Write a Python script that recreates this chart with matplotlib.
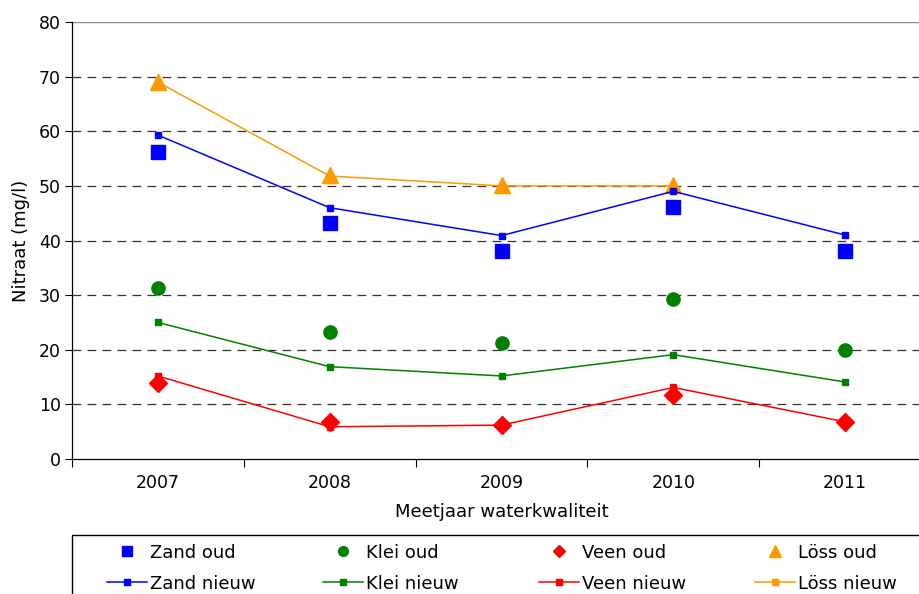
import numpy as np
import matplotlib.pyplot as plt
from matplotlib.lines import Line2D
from matplotlib.patches import Rectangle

jaren = [2007, 2008, 2009, 2010, 2011]

zand_oud = [56.2, 43.2, 38.1, 46.1, 38.0]
zand_nieuw = [59.3, 46.0, 40.9, 49.0, 41.0]
klei_oud = [31.3, 23.2, 21.2, 29.3, 20.0]
klei_nieuw = [25.0, 16.9, 15.2, 19.1, 14.1]
veen_oud = [13.9, 6.8, 6.2, 11.8, 6.8]
veen_nieuw = [15.2, 5.9, 6.2, 13.1, 6.8]
loss_jaren = [2007, 2008, 2009, 2010]
loss_oud = [69.1, 51.9, 50.1, 50.1]
loss_nieuw = [69.0, 51.8, 50.0, 50.0]

blauw = '#0000ff'
groen = '#008000'
rood = '#ff0000'
oranje = '#ff9900'

fig = plt.figure(figsize=(9.2, 5.94), dpi=100)
ax = fig.add_axes([72 / 920, 135 / 594, 859 / 920, 437 / 594])

# lijnen (nieuw)
ax.plot(loss_jaren, loss_nieuw, color=oranje, lw=1.1, marker='s', ms=4.5, zorder=3)
ax.plot(jaren, zand_nieuw, color=blauw, lw=1.1, marker='s', ms=4.5, zorder=3)
ax.plot(jaren, klei_nieuw, color=groen, lw=1.1, marker='s', ms=4.5, zorder=3)
ax.plot(jaren, veen_nieuw, color=rood, lw=1.1, marker='s', ms=4.5, zorder=3)

# losse punten (oud)
ax.plot(jaren, zand_oud, ls='none', marker='s', ms=9.5, color=blauw, zorder=4)
ax.plot(jaren, klei_oud, ls='none', marker='o', ms=9.5, color=groen, zorder=4)
ax.plot(jaren, veen_oud, ls='none', marker='D', ms=9.5, color=rood, zorder=4)
ax.plot(loss_jaren, loss_oud, ls='none', marker='^', ms=11, color=oranje, zorder=2)

ax.set_xlim(2006.5, 2011.5)
ax.set_ylim(0, 80)
ax.set_yticks(np.arange(0, 81, 10))
for y in range(10, 80, 10):
    ax.axhline(y, color='#333333', lw=0.9, ls=(0, (7, 5)), zorder=1)
ax.axhline(80, color='#888888', lw=1, zorder=1)

ax.set_xticks([2006.5, 2007.5, 2008.5, 2009.5, 2010.5, 2011.5])
ax.set_xticklabels([])
ax.set_xticks(jaren, minor=True)
ax.set_xticklabels([str(j) for j in jaren], minor=True, fontsize=12.5)
ax.tick_params(axis='x', which='minor', length=0, pad=11)
ax.tick_params(axis='x', which='major', length=6, width=0.8)
ax.tick_params(axis='y', length=5, width=0.8, labelsize=12.5, pad=3)

for s in ['top', 'right']:
    ax.spines[s].set_visible(False)
ax.spines['left'].set_linewidth(0.9)
ax.spines['bottom'].set_linewidth(0.9)

ax.set_ylabel('Nitraat (mg/l)', fontsize=13, labelpad=6)
ax.set_xlabel('Meetjaar waterkwaliteit', fontsize=13, labelpad=8)

# legenda, een kolom per grondsoort
kolommen = [
    (blauw, 's', 7, 'Zand'),
    (groen, 'o', 7, 'Klei'),
    (rood, 'D', 6.5, 'Veen'),
    (oranje, '^', 8, 'Löss'),
]
kol_x = [105, 321, 537, 753]
for (kleur, mk, ms, naam), x0 in zip(kolommen, kol_x):
    h = [Line2D([], [], ls='none', marker=mk, ms=ms, color=kleur),
         Line2D([], [], color=kleur, lw=1.1, marker='s', ms=4.5)]
    fig.legend(h, [naam + ' oud', naam + ' nieuw'], loc='upper left',
               bbox_to_anchor=(x0 / 920, 1 - 542 / 594), frameon=False,
               fontsize=13, handlelength=2.2, handletextpad=0.22,
               labelspacing=0.72, borderpad=0.1, borderaxespad=0)
fig.patches.append(Rectangle((72 / 920, -0.05), 0.95, 0.05 + 1 - 535 / 594,
                             transform=fig.transFigure, fill=False,
                             edgecolor='black', lw=1))

fig.savefig('out.png', dpi=100)
